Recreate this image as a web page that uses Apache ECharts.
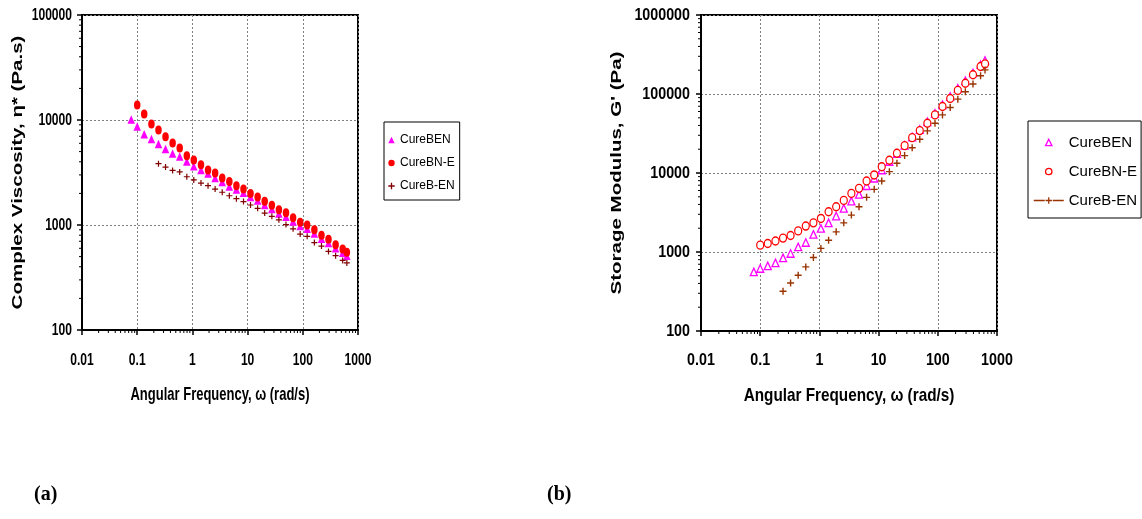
<!DOCTYPE html>
<html><head><meta charset="utf-8">
<script src="https://cdn.jsdelivr.net/npm/echarts@6/dist/echarts.min.js"></script>
<style>html,body{margin:0;padding:0;background:#fff}#c{width:1142px;height:519px}</style>
</head><body><div id="c"></div>
<script>
// ---- data ----
const freq = [0.078, 0.100, 0.134, 0.181, 0.243, 0.326, 0.438, 0.589, 0.792, 1.06, 1.43, 1.92, 2.58, 3.47, 4.67, 6.27, 8.43, 11.3, 15.2, 20.4, 27.5, 36.9, 49.6, 66.7, 89.6, 120, 162, 218, 292, 393, 528, 628];
const seriesNames = ['CureBEN', 'CureBN-E', 'CureB-EN'];
// (a) complex viscosity, Pa.s
const viscBEN  = [10100, 8650, 7330, 6590, 5910, 5300, 4800, 4480, 4030, 3620, 3340, 3100, 2800, 2570, 2330, 2180, 2030, 1850, 1710, 1550, 1420, 1290, 1200, 1080, 980, 920, 830, 740, 675, 600, 545, 510];
const viscBNE  = [null, 13900, 11400, 9160, 8030, 6940, 6040, 5410, 4570, 4160, 3750, 3340, 3130, 2800, 2600, 2370, 2200, 2000, 1850, 1680, 1540, 1400, 1310, 1170, 1060, 1000, 900, 800, 730, 650, 590, 550];
const viscBEN2 = [null, null, null, null, 3840, 3560, 3310, 3200, 2880, 2690, 2510, 2370, 2200, 2050, 1900, 1780, 1670, 1550, 1440, 1300, 1210, 1120, 1010, 920, 820, 780, 680, 630, 560, 510, 460, 435];
// (b) storage modulus, Pa
const gBEN  = [560, 618, 667, 728, 843, 958, 1160, 1320, 1670, 1990, 2340, 2850, 3570, 4410, 5370, 6900, 8570, 10900, 14000, 17600, 22400, 28500, 35500, 44500, 57000, 73000, 93000, 118000, 147000, 185000, 235000, 266000];
const gBNE  = [null, 1220, 1280, 1380, 1500, 1620, 1850, 2130, 2340, 2660, 3230, 3740, 4500, 5520, 6390, 7920, 9450, 12000, 14500, 17800, 22200, 28000, 34400, 42700, 54400, 69400, 87600, 111000, 137000, 175000, 223000, 241000];
const gBEN2 = [null, null, null, null, 318, 406, 508, 648, 853, 1110, 1410, 1800, 2340, 2930, 3740, 4920, 6210, 7920, 10400, 13300, 16600, 20900, 26700, 34100, 42700, 54400, 67400, 86000, 107000, 134000, 170000, 202000];
// tick labels
const xTickLabels = ['0.01', '0.1', '1', '10', '100', '1000'];
const yTickLabelsA = ['100', '1000', '10000', '100000'];
const yTickLabelsB = ['100', '1000', '10000', '100000', '1000000'];
const minorMult = [2, 3, 4, 5, 6, 7, 8, 9];
const xTitle = 'Angular Frequency, ω (rad/s)';
const yTitleA = 'Complex Viscosity, η* (Pa.s)';
const yTitleB = "Storage Modulus, G' (Pa)";

// ---- build ----
const SANS = "'Liberation Sans',Arial,sans-serif";
const PLUS = 'path://M4,0H6V4H10V6H6V10H4V6H0V4H4Z';
function pairs(vals) { const out = []; freq.forEach((f, i) => { if (vals[i] != null) out.push([f, vals[i]]); }); return out; }
function minorVals(labels) { const out = []; labels.slice(0, -1).map(Number).forEach(d => minorMult.forEach(m => out.push(d * m))); return out; }

function xAxisCfg(gi) {
  return {
    type: 'log', logBase: 10, gridIndex: gi, min: 0.01, max: 1000,
    axisLine: { show: true, onZero: false, lineStyle: { color: '#000', width: 2 } },
    axisTick: { show: true, inside: false, length: 5, lineStyle: { color: '#000', width: 1.5 } },
    axisLabel: { show: false },
    splitLine: { show: true, lineStyle: { color: '#808080', width: 1, type: [2, 2] } }
  };
}
function yAxisCfg(gi, min, max) {
  return {
    type: 'log', logBase: 10, gridIndex: gi, min: min, max: max,
    axisLine: { show: true, onZero: false, lineStyle: { color: '#000', width: 2 } },
    axisTick: { show: true, inside: false, length: 5, lineStyle: { color: '#000', width: 1.5 } },
    axisLabel: { show: false },
    splitLine: { show: true, lineStyle: { color: '#808080', width: 1, type: [2, 2] } }
  };
}
function dataSeries(name, gi, vals, symbol, size, itemStyle, z) {
  return {
    name: name, type: 'line', xAxisIndex: gi, yAxisIndex: gi, data: pairs(vals),
    symbol: symbol, symbolSize: size, showAllSymbol: true, showSymbol: true,
    lineStyle: { opacity: 0, width: 0 }, itemStyle: itemStyle, z: z,
    animation: false, emphasis: { disabled: true }, silent: true
  };
}
function minorSeries(gi, data, dir) {
  return {
    type: 'custom', xAxisIndex: gi, yAxisIndex: gi, data: data, silent: true, clip: false, z: 10, animation: false,
    renderItem: function (params, api) {
      const p = api.coord([api.value(0), api.value(1)]);
      const shape = dir === 'x' ? { x1: p[0], y1: p[1], x2: p[0], y2: p[1] + 3 } : { x1: p[0], y1: p[1], x2: p[0] - 3, y2: p[1] };
      return { type: 'line', shape: shape, style: { stroke: '#000', lineWidth: 1 } };
    }
  };
}
// tick labels drawn at the axis' own coordinates (condensed bold text)
function labelSeries(gi, labels, dir, anchor, margin, sx) {
  const data = labels.map(s => dir === 'x' ? [Number(s), anchor] : [anchor, Number(s)]);
  return {
    type: 'custom', xAxisIndex: gi, yAxisIndex: gi, data: data, silent: true, clip: false, z: 10, animation: false,
    renderItem: function (params, api) {
      const p = api.coord([api.value(0), api.value(1)]);
      const t = labels[params.dataIndex];
      const st = { text: t, fontFamily: SANS, fontWeight: 'bold', fontSize: 17, fill: '#000' };
      if (dir === 'x') {
        Object.assign(st, { align: 'center', verticalAlign: 'top', textAlign: 'center', textVerticalAlign: 'top' });
        return { type: 'text', x: p[0], y: p[1] + margin, scaleX: sx, style: st };
      }
      Object.assign(st, { align: 'right', verticalAlign: 'middle', textAlign: 'right', textVerticalAlign: 'middle' });
      return { type: 'text', x: p[0] - margin, y: p[1], scaleX: sx, style: st };
    }
  };
}

const grids = [
  { left: 82, top: 15, width: 276, height: 315 },
  { left: 701, top: 15, width: 296, height: 316 }
];
function titleText(text, x, y, rot, sx, sy, size, va) {
  return { type: 'text', x: x, y: y, rotation: rot, scaleX: sx, scaleY: sy, silent: true,
    style: { text: text, fontFamily: SANS, fontWeight: 'bold', fontSize: size, fill: '#000',
      align: 'center', verticalAlign: va, textAlign: 'center', textVerticalAlign: va } };
}

const option = {
  backgroundColor: '#fff',
  animation: false,
  grid: grids.map(g => Object.assign({ show: true, borderColor: '#000', borderWidth: 2, backgroundColor: 'transparent', containLabel: false }, g)),
  xAxis: [xAxisCfg(0), xAxisCfg(1)],
  yAxis: [yAxisCfg(0, 100, 100000), yAxisCfg(1, 100, 1000000)],
  legend: [
    {
      orient: 'vertical', left: 384, top: 122, padding: [10, 5, 6, 4], itemGap: 7, itemWidth: 7, itemHeight: 8,
      borderColor: '#000', borderWidth: 1, backgroundColor: '#fff', selectedMode: false,
      textStyle: { fontFamily: SANS, fontSize: 12, color: '#000', lineHeight: 16 },
      data: [
        { name: seriesNames[0], itemStyle: { color: '#FF00FF' } },
        { name: seriesNames[1], itemStyle: { color: '#FF0000' } },
        { name: seriesNames[2], itemStyle: { color: '#800000' } }
      ]
    },
    {
      orient: 'vertical', left: 1028, top: 121, padding: [13, 4, 9, 5], itemGap: 12, itemWidth: 30, itemHeight: 8,
      borderColor: '#000', borderWidth: 1, backgroundColor: '#fff', selectedMode: false,
      textStyle: { fontFamily: SANS, fontSize: 15, color: '#000', lineHeight: 17 },
      data: [
        { name: seriesNames[0], itemStyle: { color: '#fff', borderColor: '#FF00FF', borderWidth: 1.3 } },
        { name: seriesNames[1], itemStyle: { color: '#fff', borderColor: '#FF0000', borderWidth: 1.3 } },
        { name: seriesNames[2], itemStyle: { color: '#993300' }, lineStyle: { color: '#993300', width: 1.5, opacity: 1, type: [11, 8] } }
      ]
    }
  ],
  title: [
    { text: '(a)', left: 34, top: 485, padding: 0, textStyle: { fontFamily: "'Liberation Serif','Times New Roman',serif", fontWeight: 'bold', fontSize: 20, color: '#000' } },
    { text: '(b)', left: 547, top: 485, padding: 0, textStyle: { fontFamily: "'Liberation Serif','Times New Roman',serif", fontWeight: 'bold', fontSize: 20, color: '#000' } }
  ],
  graphic: [
    titleText(yTitleA, 18, grids[0].top + grids[0].height / 2, Math.PI / 2, 1, 0.73, 20.5, 'middle'),
    titleText(yTitleB, 617, grids[1].top + grids[1].height / 2, Math.PI / 2, 1, 0.73, 20.5, 'middle'),
    titleText(xTitle, grids[0].left + grids[0].width / 2, grids[0].top + grids[0].height + 56.5, 0, 0.735, 1, 17.7, 'top'),
    titleText(xTitle, grids[1].left + grids[1].width / 2, grids[1].top + grids[1].height + 56, 0, 0.865, 1, 17.7, 'top')
  ],
  series: [
    dataSeries(seriesNames[0], 0, viscBEN, 'triangle', [7.5, 8.5], { color: '#FF00FF' }, 2),
    dataSeries(seriesNames[1], 0, viscBNE, 'circle', [6.5, 9], { color: '#FF0000' }, 3),
    dataSeries(seriesNames[2], 0, viscBEN2, PLUS, [6, 6], { color: '#800000' }, 4),
    dataSeries(seriesNames[0], 1, gBEN, 'triangle', [7, 7.5], { color: '#fff', borderColor: '#FF00FF', borderWidth: 1.3 }, 2),
    dataSeries(seriesNames[1], 1, gBNE, 'circle', [7, 8], { color: '#fff', borderColor: '#FF0000', borderWidth: 1.3 }, 3),
    dataSeries(seriesNames[2], 1, gBEN2, PLUS, [7, 7], { color: '#993300' }, 4),
    minorSeries(0, minorVals(xTickLabels).map(v => [v, 100]), 'x'),
    minorSeries(0, minorVals(yTickLabelsA).map(v => [0.01, v]), 'y'),
    minorSeries(1, minorVals(xTickLabels).map(v => [v, 100]), 'x'),
    minorSeries(1, minorVals(yTickLabelsB).map(v => [0.01, v]), 'y'),
    labelSeries(0, xTickLabels, 'x', 100, 22, 0.71),
    labelSeries(0, yTickLabelsA, 'y', 0.01, 10, 0.71),
    labelSeries(1, xTickLabels, 'x', 100, 21, 0.84),
    labelSeries(1, yTickLabelsB, 'y', 0.01, 11, 0.84)
  ]
};

const chart = echarts.init(document.getElementById('c'), null, { renderer: 'canvas' });
chart.setOption(option);
</script>
</body></html>
